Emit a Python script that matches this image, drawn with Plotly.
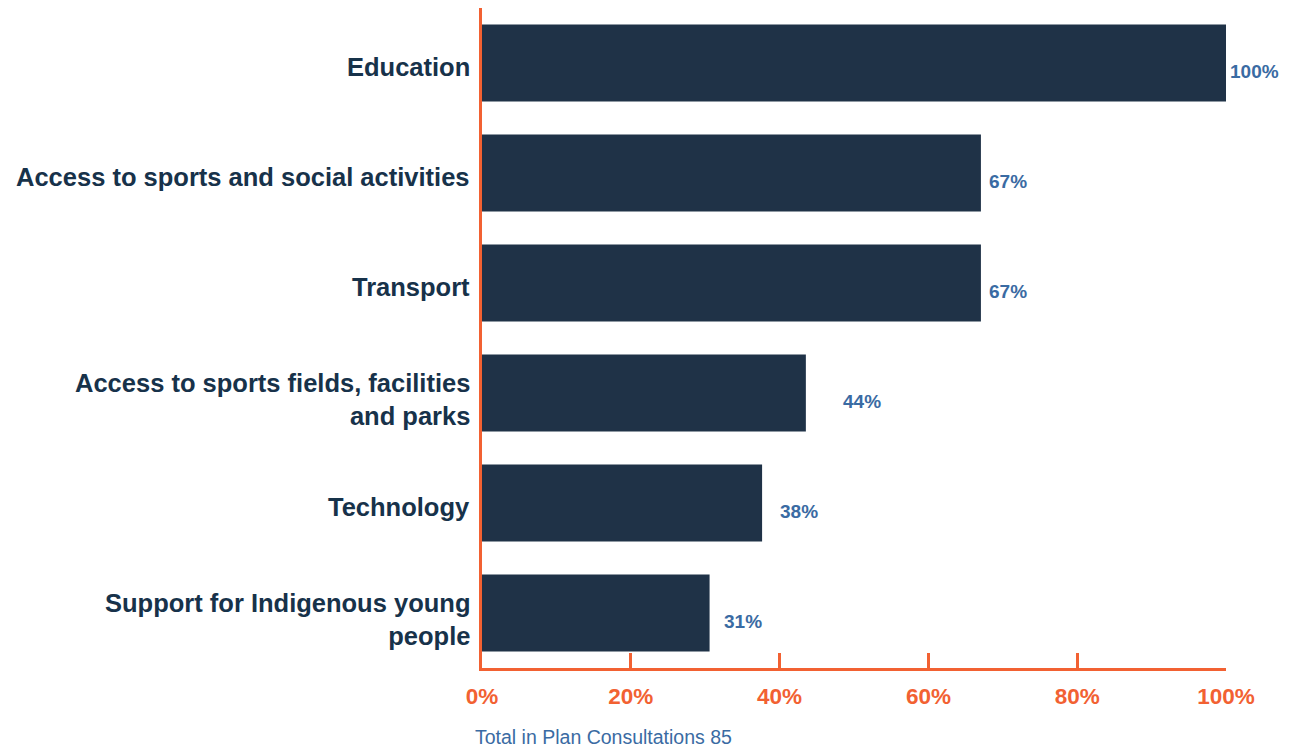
import plotly.graph_objects as go

categories = [
    "Education",
    "Access to sports and social activities",
    "Transport",
    "Access to sports fields, facilities<br>and parks",
    "Technology",
    "Support for Indigenous young<br>people",
]
counts = [85, 57, 57, 37, 32, 26]
total = 85
values = [c / total * 100 for c in counts]
labels = ["100%", "67%", "67%", "44%", "38%", "31%"]
tick_vals = [0, 20, 40, 60, 80, 100]
tick_text = ["0%", "20%", "40%", "60%", "80%", "100%"]
footer = "Total in Plan Consultations 85"

# style: horizontal offsets of value labels (pixels beyond bar end)
label_shift = [2, 6, 6, 35, 16, 12]

NAVY = "#1f3247"
ORANGE = "#f26132"
BLUE = "#3a6ba3"
LABEL = "#17324a"
FONT = "Liberation Sans, Arial, sans-serif"

W, H = 1284, 741
L, R, T, B = 474, 66, 0, 81

fig = go.Figure()
fig.add_trace(go.Bar(
    y=categories, x=values, orientation="h",
    marker=dict(color=NAVY, line=dict(width=0)),
    hoverinfo="skip",
))

for cat, v, lab, sh in zip(categories, values, labels, label_shift):
    fig.add_annotation(
        x=v, y=cat, xref="x", yref="y", text=f"<b>{lab}</b>",
        showarrow=False, xanchor="left", yanchor="middle",
        xshift=sh, yshift=-8,
        font=dict(family=FONT, size=19, color=BLUE),
    )

# category labels
for cat in categories:
    multi = "<br>" in cat
    fig.add_annotation(
        x=0, y=cat, xref="paper", yref="y", text=f"<b>{cat}</b>",
        showarrow=False, xanchor="right", yanchor="middle", align="right",
        xshift=-10, yshift=-6 if multi else -4,
        font=dict(family=FONT, size=25.5, color=LABEL),
    )

plot_w = W - L - R
plot_h = H - T - B
fig.add_annotation(
    x=(465 - L) / plot_w, y=-(729 - (H - B)) / plot_h,
    xref="paper", yref="paper", text=footer, showarrow=False,
    xanchor="left", yanchor="middle",
    font=dict(family=FONT, size=19.5, color=BLUE),
)

fig.update_layout(
    width=W, height=H,
    margin=dict(l=L, r=R, t=T, b=B, autoexpand=False),
    paper_bgcolor="white", plot_bgcolor="white",
    bargap=0.3, showlegend=False,
    font=dict(family=FONT),
)

fig.update_xaxes(
    range=[0, 100], tickvals=tick_vals, ticktext=tick_text,
    showgrid=False, zeroline=False,
    showline=True, linecolor=ORANGE, linewidth=2.5,
    ticks="inside", tickcolor=ORANGE, tickwidth=2.5, ticklen=15,
    ticklabelstandoff=6,
    tickfont=dict(family=FONT, size=22.5, color=ORANGE, weight="bold"),
)
fig.update_yaxes(
    categoryorder="array", categoryarray=categories[::-1],
    showgrid=False, zeroline=False,
    showline=True, linecolor=ORANGE, linewidth=2.5,
    ticks="", showticklabels=False,
)

fig.write_html("out.html")
